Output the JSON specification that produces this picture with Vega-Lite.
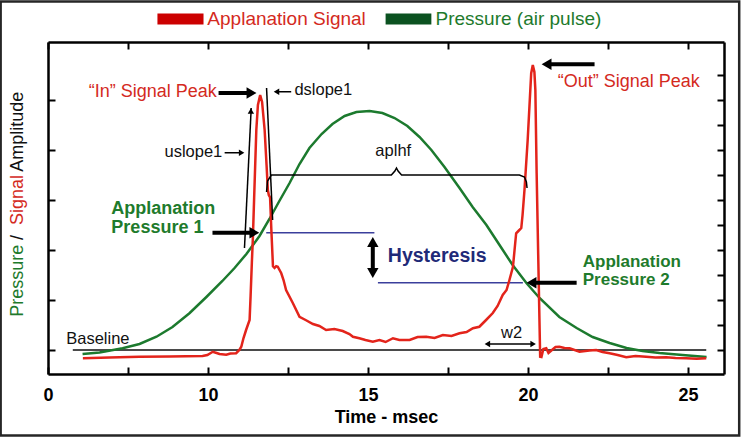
{
  "$schema": "https://vega.github.io/schema/vega-lite/v6.json",
  "width": 676,
  "height": 332,
  "autosize": {"type": "none"},
  "padding": {"left": 48, "top": 42, "right": 17, "bottom": 63},
  "background": "white",
  "config": {"font": "Liberation Sans", "view": {"stroke": null}, "axis": {"grid": false}},
  "resolve": {"axis": {"x": "independent", "y": "independent"}},
  "layer": [
    {
      "layer": [
        {
          "data": {"values": [{"t": 3.52, "t2": 26.6, "a": 13.94, "a2": -3.42}]},
          "mark": {"type": "rect", "fillOpacity": 0, "stroke": "#262626", "strokeWidth": 2.5, "strokeOpacity": 1},
          "encoding": {
            "x": {"field": "t", "type": "quantitative", "scale": {"domain": [5, 26.125], "nice": false, "zero": false},
              "axis": {"orient": "bottom", "values": [5, 7.5, 10, 12.5, 15, 17.5, 20, 22.5, 25], "tickSize": -7, "tickWidth": 2, "tickColor": "black", "domainColor": "black", "domainWidth": 2.5, "labelFontSize": 18, "labelFontWeight": "bold", "labelColor": "black", "labelPadding": 19, "labelFlush": false, "labelOverlap": false, "labelExpr": "datum.value == 5 ? '0' : (datum.value % 5 == 0 ? datum.label : '')", "title": "Time - msec", "titleFontSize": 18, "titleFontWeight": "bold", "titleColor": "black", "titlePadding": 4}},
            "x2": {"field": "t2"},
            "y": {"field": "a", "type": "quantitative", "scale": {"domain": [-0.96, 12.32], "nice": false, "zero": false},
              "axis": {"orient": "left", "values": [0, 1, 2, 3, 4, 5, 6, 7, 8, 9, 10, 11], "tickSize": -7, "tickWidth": 2, "tickColor": "black", "domainColor": "black", "domainWidth": 2.5, "labels": false, "title": null}},
            "y2": {"field": "a2"}
          }
        },
        {
          "data": {"values": [{"t": 5.775, "t2": 25.57, "a": 0}]},
          "mark": {"type": "rule", "color": "#4a4a4a", "strokeWidth": 2},
          "encoding": {"x": {"field": "t", "type": "quantitative"}, "x2": {"field": "t2"}, "y": {"field": "a", "type": "quantitative"}}
        },
        {
          "data": {"values": [{"t": 11.82, "t2": 15.2, "a": 4.69}, {"t": 15.31, "t2": 19.84, "a": 2.69}]},
          "mark": {"type": "rule", "color": "#3b3f9c", "strokeWidth": 1.6},
          "encoding": {"x": {"field": "t", "type": "quantitative"}, "x2": {"field": "t2"}, "y": {"field": "a", "type": "quantitative"}}
        },
        {
          "data": {"values": [
            {"t": 6.08, "a": -0.16}, {"t": 6.61, "a": -0.1}, {"t": 7.33, "a": 0.07}, {"t": 7.86, "a": 0.24}, {"t": 8.39, "a": 0.53},
            {"t": 8.89, "a": 0.92}, {"t": 9.42, "a": 1.47}, {"t": 9.95, "a": 2.12}, {"t": 10.45, "a": 2.76}, {"t": 10.83, "a": 3.28},
            {"t": 11.2, "a": 3.84}, {"t": 11.61, "a": 4.56}, {"t": 11.92, "a": 5.24}, {"t": 12.23, "a": 5.96}, {"t": 12.55, "a": 6.68},
            {"t": 12.86, "a": 7.44}, {"t": 13.17, "a": 8.08}, {"t": 13.55, "a": 8.64}, {"t": 13.89, "a": 9.04}, {"t": 14.27, "a": 9.36},
            {"t": 14.64, "a": 9.52}, {"t": 15.05, "a": 9.56}, {"t": 15.45, "a": 9.48}, {"t": 15.83, "a": 9.28}, {"t": 16.23, "a": 8.96},
            {"t": 16.61, "a": 8.52}, {"t": 16.98, "a": 8.0}, {"t": 17.39, "a": 7.32}, {"t": 17.86, "a": 6.48}, {"t": 18.27, "a": 5.72},
            {"t": 18.7, "a": 5.0}, {"t": 19.11, "a": 4.2}, {"t": 19.52, "a": 3.4}, {"t": 19.95, "a": 2.68}, {"t": 20.36, "a": 2.08},
            {"t": 20.98, "a": 1.32}, {"t": 21.52, "a": 0.88}, {"t": 22.02, "a": 0.52}, {"t": 22.55, "a": 0.28}, {"t": 23.08, "a": 0.08},
            {"t": 23.58, "a": -0.04}, {"t": 24.11, "a": -0.12}, {"t": 24.83, "a": -0.2}, {"t": 25.58, "a": -0.28}
          ]},
          "mark": {"type": "line", "color": "#1c7a2e", "strokeWidth": 2.5},
          "encoding": {"x": {"field": "t", "type": "quantitative"}, "y": {"field": "a", "type": "quantitative"}}
        },
        {
          "data": {"values": [
            {"t": 6.09, "a": -0.33}, {"t": 6.92, "a": -0.3}, {"t": 7.86, "a": -0.27}, {"t": 8.8, "a": -0.26}, {"t": 9.83, "a": -0.24},
            {"t": 9.98, "a": -0.2}, {"t": 10.15, "a": -0.07}, {"t": 10.27, "a": -0.12}, {"t": 10.36, "a": -0.16}, {"t": 10.57, "a": -0.19},
            {"t": 10.7, "a": -0.14}, {"t": 10.88, "a": -0.13}, {"t": 10.98, "a": 0.0}, {"t": 11.04, "a": 0.13}, {"t": 11.11, "a": 0.48},
            {"t": 11.19, "a": 0.8}, {"t": 11.3, "a": 1.2}, {"t": 11.33, "a": 2.13}, {"t": 11.37, "a": 3.48}, {"t": 11.4, "a": 4.4},
            {"t": 11.44, "a": 6.0}, {"t": 11.51, "a": 8.8}, {"t": 11.56, "a": 9.8}, {"t": 11.63, "a": 10.2}, {"t": 11.69, "a": 9.92},
            {"t": 11.77, "a": 8.8}, {"t": 11.83, "a": 7.4}, {"t": 11.87, "a": 6.4}, {"t": 11.9, "a": 6.2}, {"t": 11.94, "a": 6.1},
            {"t": 11.98, "a": 4.8}, {"t": 12.03, "a": 3.35}, {"t": 12.08, "a": 3.28}, {"t": 12.13, "a": 3.35}, {"t": 12.18, "a": 3.33},
            {"t": 12.29, "a": 3.07}, {"t": 12.36, "a": 2.8}, {"t": 12.44, "a": 2.4}, {"t": 12.65, "a": 1.88}, {"t": 12.86, "a": 1.33},
            {"t": 13.05, "a": 1.2}, {"t": 13.28, "a": 1.04}, {"t": 13.48, "a": 0.96}, {"t": 13.69, "a": 0.8}, {"t": 13.95, "a": 0.84},
            {"t": 14.21, "a": 0.76}, {"t": 14.42, "a": 0.64}, {"t": 14.53, "a": 0.53}, {"t": 14.73, "a": 0.47}, {"t": 14.92, "a": 0.4},
            {"t": 15.15, "a": 0.33}, {"t": 15.36, "a": 0.4}, {"t": 15.55, "a": 0.32}, {"t": 15.78, "a": 0.47}, {"t": 15.98, "a": 0.4},
            {"t": 16.3, "a": 0.4}, {"t": 16.55, "a": 0.52}, {"t": 16.82, "a": 0.53}, {"t": 17.08, "a": 0.48}, {"t": 17.34, "a": 0.6},
            {"t": 17.61, "a": 0.56}, {"t": 17.86, "a": 0.67}, {"t": 18.08, "a": 0.72}, {"t": 18.28, "a": 0.87}, {"t": 18.48, "a": 0.93},
            {"t": 18.69, "a": 1.2}, {"t": 18.9, "a": 1.48}, {"t": 19.05, "a": 1.76}, {"t": 19.21, "a": 2.2}, {"t": 19.33, "a": 2.4},
            {"t": 19.42, "a": 2.8}, {"t": 19.53, "a": 3.33}, {"t": 19.58, "a": 4.0}, {"t": 19.63, "a": 4.67}, {"t": 19.7, "a": 4.76},
            {"t": 19.79, "a": 4.88}, {"t": 19.83, "a": 5.4}, {"t": 19.89, "a": 6.4}, {"t": 19.99, "a": 8.4}, {"t": 20.1, "a": 11.07},
            {"t": 20.15, "a": 11.4}, {"t": 20.2, "a": 11.12}, {"t": 20.23, "a": 10.4}, {"t": 20.27, "a": 7.08}, {"t": 20.34, "a": 2.4},
            {"t": 20.38, "a": -0.27}, {"t": 20.42, "a": -0.28}, {"t": 20.48, "a": 0.04}, {"t": 20.57, "a": 0.07}, {"t": 20.64, "a": -0.12},
            {"t": 20.73, "a": -0.02}, {"t": 20.86, "a": 0.12}, {"t": 20.98, "a": 0.13}, {"t": 21.14, "a": 0.08}, {"t": 21.3, "a": 0.07},
            {"t": 21.61, "a": -0.07}, {"t": 21.92, "a": -0.02}, {"t": 22.13, "a": 0.0}, {"t": 22.33, "a": -0.08}, {"t": 22.55, "a": -0.13},
            {"t": 22.8, "a": -0.2}, {"t": 23.07, "a": -0.29}, {"t": 23.36, "a": -0.24}, {"t": 23.69, "a": -0.27}, {"t": 23.98, "a": -0.3},
            {"t": 24.32, "a": -0.29}, {"t": 24.61, "a": -0.32}, {"t": 24.94, "a": -0.33}, {"t": 25.27, "a": -0.35}, {"t": 25.57, "a": -0.33}
          ]},
          "mark": {"type": "line", "color": "#e3241b", "strokeWidth": 2.5},
          "encoding": {"x": {"field": "t", "type": "quantitative"}, "y": {"field": "a", "type": "quantitative"}}
        },
        {
          "data": {"values": [{"t": 11.14, "a": 4.08, "t2": 11.35, "a2": 9.68}, {"t": 11.83, "a": 10.48, "t2": 12.02, "a2": 5.2}]},
          "mark": {"type": "rule", "color": "black", "strokeWidth": 1.5},
          "encoding": {"x": {"field": "t", "type": "quantitative"}, "x2": {"field": "t2"}, "y": {"field": "a", "type": "quantitative"}, "y2": {"field": "a2"}}
        },
        {
          "data": {"values": [
            {"t": 11.83, "a": 6.32}, {"t": 11.86, "a": 6.76}, {"t": 11.98, "a": 7.0}, {"t": 15.73, "a": 7.0}, {"t": 15.84, "a": 7.16},
            {"t": 15.89, "a": 7.28}, {"t": 15.94, "a": 7.16}, {"t": 16.05, "a": 7.0}, {"t": 19.73, "a": 7.0}, {"t": 19.89, "a": 6.92},
            {"t": 19.95, "a": 6.72}, {"t": 19.97, "a": 6.48}
          ]},
          "mark": {"type": "line", "color": "black", "strokeWidth": 1.5},
          "encoding": {"x": {"field": "t", "type": "quantitative"}, "y": {"field": "a", "type": "quantitative"}}
        },
        {
          "data": {"values": [
            {"t": 10.33, "t2": 11.3, "a": 10.28, "a2": 10.28}, {"t": 22.08, "t2": 20.61, "a": 11.43, "a2": 11.43},
            {"t": 10.14, "t2": 11.39, "a": 4.69, "a2": 4.69}, {"t": 21.52, "t2": 20.11, "a": 2.69, "a2": 2.69},
            {"t": 15.15, "t2": 15.15, "a": 4.28, "a2": 3.12}
          ]},
          "mark": {"type": "rule", "color": "black", "strokeWidth": 4},
          "encoding": {"x": {"field": "t", "type": "quantitative"}, "x2": {"field": "t2"}, "y": {"field": "a", "type": "quantitative"}, "y2": {"field": "a2"}}
        },
        {
          "data": {"values": [
            {"t": 10.52, "t2": 10.98, "a": 7.89, "a2": 7.89}, {"t": 12.6, "t2": 12.2, "a": 10.33, "a2": 10.33},
            {"t": 18.77, "t2": 20.11, "a": 0.24, "a2": 0.24}
          ]},
          "mark": {"type": "rule", "color": "black", "strokeWidth": 1.5},
          "encoding": {"x": {"field": "t", "type": "quantitative"}, "x2": {"field": "t2"}, "y": {"field": "a", "type": "quantitative"}, "y2": {"field": "a2"}}
        },
        {
          "data": {"values": [
            {"t": 11.36, "a": 10.28, "dir": "right"}, {"t": 20.58, "a": 11.43, "dir": "left"},
            {"t": 11.45, "a": 4.69, "dir": "right"}, {"t": 20.11, "a": 2.69, "dir": "left"},
            {"t": 15.15, "a": 4.32, "dir": "up"}, {"t": 15.15, "a": 3.08, "dir": "down"}
          ]},
          "mark": {"type": "point", "filled": true, "color": "black", "opacity": 1, "size": 130, "strokeWidth": 0},
          "encoding": {"x": {"field": "t", "type": "quantitative"}, "y": {"field": "a", "type": "quantitative"},
            "shape": {"field": "dir", "type": "nominal", "scale": {"domain": ["right", "left", "up", "down"], "range": ["triangle-right", "triangle-left", "triangle-up", "triangle-down"]}, "legend": null}}
        },
        {
          "data": {"values": [
            {"t": 11.05, "a": 7.89, "dir": "right"}, {"t": 12.14, "a": 10.33, "dir": "left"},
            {"t": 18.73, "a": 0.24, "dir": "left"}, {"t": 20.16, "a": 0.24, "dir": "right"},
            {"t": 11.34, "a": 9.56, "dir": "up"}
          ]},
          "mark": {"type": "point", "filled": true, "color": "black", "opacity": 1, "size": 40, "strokeWidth": 0},
          "encoding": {"x": {"field": "t", "type": "quantitative"}, "y": {"field": "a", "type": "quantitative"},
            "shape": {"field": "dir", "type": "nominal", "scale": {"domain": ["right", "left", "up", "down"], "range": ["triangle-right", "triangle-left", "triangle-up", "triangle-down"]}, "legend": null}}
        },
        {
          "data": {"values": [{"label": "“In” Signal Peak", "t": 6.27, "a": 10.32}, {"label": "“Out” Signal Peak", "t": 20.93, "a": 10.73}]},
          "mark": {"type": "text", "align": "left", "baseline": "middle", "fontSize": 18, "color": "#d42a1e"},
          "encoding": {"x": {"field": "t", "type": "quantitative"}, "y": {"field": "a", "type": "quantitative"}, "text": {"field": "label"}}
        },
        {
          "data": {"values": [
            {"label": "dslope1", "t": 12.7, "a": 10.4}, {"label": "uslope1", "t": 8.64, "a": 7.91},
            {"label": "aplhf", "t": 15.23, "a": 7.96}, {"label": "Baseline", "t": 5.57, "a": 0.46}, {"label": "w2", "t": 19.16, "a": 0.67}
          ]},
          "mark": {"type": "text", "align": "left", "baseline": "middle", "fontSize": 16.5, "color": "#111111"},
          "encoding": {"x": {"field": "t", "type": "quantitative"}, "y": {"field": "a", "type": "quantitative"}, "text": {"field": "label"}}
        },
        {
          "data": {"values": [{"label": "Applanation", "t": 6.98, "a": 5.65}, {"label": "Pressure 1", "t": 6.98, "a": 4.87}]},
          "mark": {"type": "text", "align": "left", "baseline": "middle", "fontSize": 18, "fontWeight": "bold", "color": "#1e7b2c"},
          "encoding": {"x": {"field": "t", "type": "quantitative"}, "y": {"field": "a", "type": "quantitative"}, "text": {"field": "label"}}
        },
        {
          "data": {"values": [{"label": "Applanation", "t": 21.71, "a": 3.53}, {"label": "Pressure 2", "t": 21.71, "a": 2.8}]},
          "mark": {"type": "text", "align": "left", "baseline": "middle", "fontSize": 17, "fontWeight": "bold", "color": "#1e7b2c"},
          "encoding": {"x": {"field": "t", "type": "quantitative"}, "y": {"field": "a", "type": "quantitative"}, "text": {"field": "label"}}
        },
        {
          "data": {"values": [{"label": "Hysteresis", "t": 15.62, "a": 3.76}]},
          "mark": {"type": "text", "align": "left", "baseline": "middle", "fontSize": 19.5, "fontWeight": "bold", "color": "#1f2a78"},
          "encoding": {"x": {"field": "t", "type": "quantitative"}, "y": {"field": "a", "type": "quantitative"}, "text": {"field": "label"}}
        },
        {
          "data": {"values": [
            {"t": 8.42, "t2": 9.86, "a": 13.46, "a2": 13.02, "who": "swSignal"},
            {"t": 15.55, "t2": 16.98, "a": 13.46, "a2": 13.02, "who": "swPressure"}
          ]},
          "mark": {"type": "rect"},
          "encoding": {"x": {"field": "t", "type": "quantitative"}, "x2": {"field": "t2"}, "y": {"field": "a", "type": "quantitative"}, "y2": {"field": "a2"},
            "color": {"field": "who", "type": "nominal", "scale": {"domain": ["pressure", "ink", "signal", "swSignal", "swPressure"], "range": ["#1e7a2c", "#111111", "#d42a1e", "#cc0000", "#0b5220"]}, "legend": null}}
        },
        {
          "data": {"values": [
            {"label": "Applanation Signal", "t": 9.98, "a": 13.24, "who": "signal"},
            {"label": "Pressure (air pulse)", "t": 17.11, "a": 13.24, "who": "pressure"}
          ]},
          "mark": {"type": "text", "align": "left", "baseline": "middle", "fontSize": 19},
          "encoding": {"x": {"field": "t", "type": "quantitative"}, "y": {"field": "a", "type": "quantitative"}, "text": {"field": "label"},
            "color": {"field": "who", "type": "nominal", "scale": {"domain": ["pressure", "ink", "signal", "swSignal", "swPressure"], "range": ["#1e7a2c", "#111111", "#d42a1e", "#cc0000", "#0b5220"]}, "legend": null}}
        },
        {
          "data": {"values": [
            {"label": "Pressure", "t": 4.056, "a": 1.33, "who": "pressure"},
            {"label": "/", "t": 4.056, "a": 4.4, "who": "ink"},
            {"label": "Signal", "t": 4.056, "a": 5.0, "who": "signal"},
            {"label": "Amplitude", "t": 4.056, "a": 7.13, "who": "ink"}
          ]},
          "mark": {"type": "text", "align": "left", "baseline": "middle", "fontSize": 18, "angle": 270},
          "encoding": {"x": {"field": "t", "type": "quantitative"}, "y": {"field": "a", "type": "quantitative"}, "text": {"field": "label"},
            "color": {"field": "who", "type": "nominal", "scale": {"domain": ["pressure", "ink", "signal", "swSignal", "swPressure"], "range": ["#1e7a2c", "#111111", "#d42a1e", "#cc0000", "#0b5220"]}, "legend": null}}
        }
      ]
    },
    {
      "mark": {"type": "point", "opacity": 0},
      "encoding": {
        "x": {"datum": 10, "type": "quantitative", "scale": {"domain": [5, 26.125], "nice": false, "zero": false},
          "axis": {"orient": "top", "values": [5, 7.5, 10, 12.5, 15, 17.5, 20, 22.5, 25], "tickSize": -7, "tickWidth": 2, "tickColor": "black", "domainColor": "black", "domainWidth": 2.5, "labels": false, "title": null}},
        "y": {"datum": 0, "type": "quantitative", "scale": {"domain": [-0.96, 12.32], "nice": false, "zero": false},
          "axis": {"orient": "right", "values": [0, 1, 2, 3, 4, 5, 6, 7, 8, 9, 10, 11], "tickSize": -7, "tickWidth": 2, "tickColor": "black", "domainColor": "black", "domainWidth": 2.5, "labels": false, "title": null}}
      }
    }
  ]
}
